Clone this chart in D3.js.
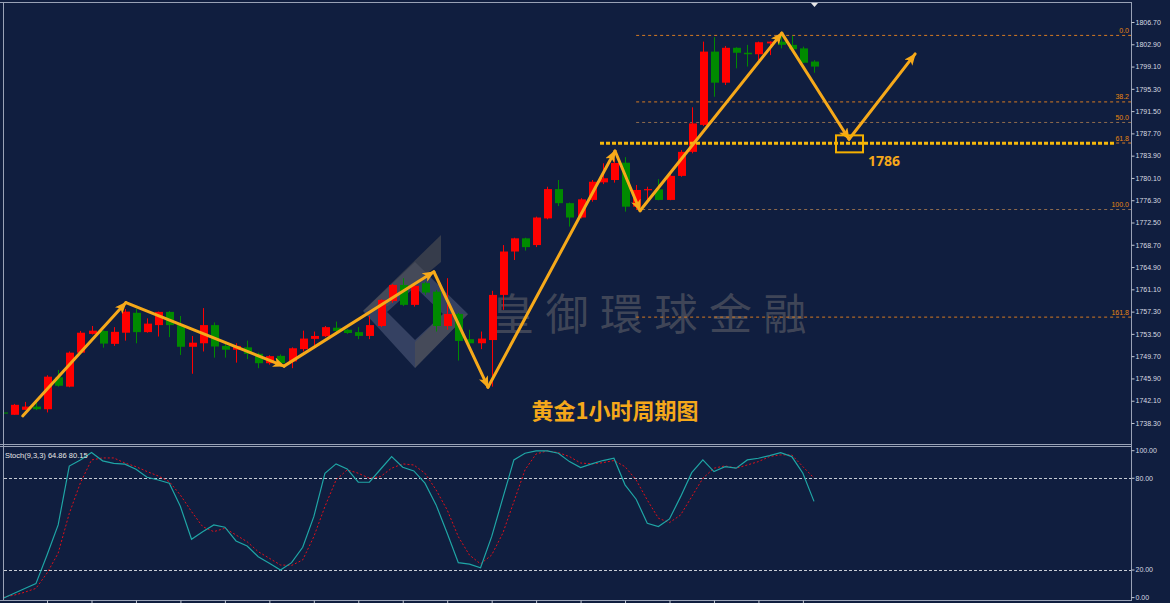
<!DOCTYPE html>
<html>
<head>
<meta charset="utf-8">
<script src="https://cdn.jsdelivr.net/npm/d3@7"></script>
<style>
    body { margin: 0; background: #101e3f; }
    svg { display: block; font-family: "Liberation Sans", Arial, sans-serif; }
</style>
</head>
<body>
<div id="chart"></div>
<script>
// candle index -1 .. 72 (first one is cut by the left border)
const candleIdx = d3.range(-1, 73)
const opens = [1740.1, 1739.7, 1740.55, 1741.1, 1740.65, 1746.1, 1744.5, 1750.3, 1753.5, 1754.0,
    1751.8, 1753.7, 1757.1, 1753.8, 1755.0, 1757.25, 1755.0, 1751.3, 1751.9, 1755.0,
    1751.45, 1750.8, 1751.2, 1750.1, 1748.5, 1749.75, 1748.8, 1750.9, 1752.65, 1753.1,
    1754.55, 1754.2, 1753.8, 1753.15, 1754.85, 1759.1, 1761.85, 1758.45, 1762.15, 1760.7,
    1754.85, 1756.9, 1752.6, 1751.9, 1752.45, 1760.15, 1767.55, 1769.8, 1768.65, 1773.2,
    1778.2, 1775.8, 1773.35, 1776.35, 1779.35, 1779.75, 1782.7, 1775.2, 1778.0, 1778.15,
    1776.35, 1780.45, 1784.55, 1789.15, 1801.65, 1796.35, 1802.3, 1801.45, 1801.2, 1803.05,
    1803.35, 1802.8, 1802.2, 1799.95]
const closes = [1739.95, 1741.4, 1741.1, 1740.65, 1746.2, 1744.65, 1750.3, 1753.7, 1754.05, 1751.85,
    1753.85, 1757.3, 1753.8, 1755.25, 1757.25, 1755.0, 1751.3, 1752.0, 1755.0, 1751.35,
    1750.8, 1751.45, 1750.1, 1748.5, 1749.7, 1748.5, 1751.05, 1752.7, 1753.15, 1754.65,
    1754.0, 1753.65, 1753.15, 1755.0, 1759.3, 1761.85, 1758.45, 1761.7, 1760.55, 1754.85,
    1756.9, 1752.3, 1751.9, 1752.7, 1760.15, 1767.55, 1769.8, 1768.3, 1773.35, 1778.2,
    1775.8, 1773.35, 1776.45, 1779.45, 1780.05, 1782.65, 1775.2, 1778.05, 1778.2, 1776.35,
    1780.45, 1784.55, 1789.4, 1801.65, 1796.35, 1802.3, 1801.45, 1801.2, 1803.25, 1803.35,
    1802.8, 1802.05, 1799.75, 1799.1]
const highs = [1740.2, 1741.55, 1741.9, 1742.4, 1746.45, 1747.35, 1750.5, 1754.0, 1754.85, 1754.1,
    1754.65, 1757.75, 1757.75, 1756.15, 1757.3, 1757.4, 1756.55, 1753.15, 1757.9, 1755.45,
    1751.9, 1751.9, 1752.35, 1750.3, 1749.85, 1750.0, 1751.2, 1754.05, 1753.9, 1754.85,
    1755.6, 1754.35, 1754.65, 1756.55, 1759.4, 1762.0, 1763.0, 1762.15, 1762.4, 1761.0,
    1763.0, 1757.1, 1754.2, 1753.9, 1760.85, 1768.65, 1769.9, 1769.9, 1773.5, 1778.6,
    1779.75, 1775.9, 1776.65, 1779.75, 1782.6, 1783.3, 1783.65, 1778.9, 1778.6, 1779.9,
    1781.15, 1784.85, 1792.15, 1803.35, 1804.1, 1802.6, 1802.4, 1802.8, 1803.35, 1803.4,
    1804.75, 1804.35, 1802.5, 1800.2]
const lows = [1739.9, 1739.7, 1740.55, 1740.5, 1740.1, 1744.5, 1744.4, 1750.2, 1753.4, 1751.15,
    1751.45, 1752.35, 1751.9, 1753.7, 1753.05, 1752.95, 1749.9, 1746.7, 1750.5, 1749.45,
    1749.45, 1748.6, 1749.2, 1747.65, 1748.25, 1748.3, 1747.65, 1750.5, 1751.6, 1752.95,
    1753.35, 1753.5, 1752.6, 1752.6, 1754.65, 1758.8, 1758.25, 1758.15, 1760.15, 1753.9,
    1754.2, 1748.95, 1751.45, 1750.9, 1744.5, 1757.6, 1766.1, 1767.7, 1768.3, 1773.05,
    1775.3, 1771.8, 1773.2, 1776.05, 1779.05, 1779.3, 1774.35, 1774.65, 1775.8, 1776.3,
    1776.3, 1780.3, 1784.3, 1788.95, 1793.95, 1795.95, 1798.8, 1799.1, 1800.2, 1801.05,
    1802.2, 1802.0, 1799.7, 1798.05]

const stochK = [1.4, 4.6, 7.9, 11.1, 29.8, 49.5, 88, 92, 96.8, 91.4,
    89.8, 89.2, 85.9, 80.7, 78.9, 76.8, 61.5, 40.1, 45.1, 49.5,
    48, 39, 35.7, 28.7, 24.4, 20, 24.8, 34.9, 54.9, 83.3,
    89.4, 86.1, 77.4, 77.4, 85.9, 94.2, 87.2, 84.8, 76.8, 62.6,
    44, 24.8, 23.8, 21.5, 41.8, 67, 92, 96.4, 97.9, 97.9,
    96.4, 90.9, 87, 89.4, 91.6, 93.1, 75.7, 66.3, 50.6, 48.4,
    53.4, 68, 83.7, 92, 84.4, 87.6, 86.6, 92, 93.1, 94.8,
    96.8, 94.2, 83.3, 64.9]
const stochD = [2.2, 3.5, 5.5, 8, 18, 31, 57, 77, 92, 93.3,
    93.3, 90, 87.6, 84.4, 81.5, 77.8, 69, 58.2, 48.4, 45.1,
    47.3, 42.9, 38.5, 32, 27.7, 23.3, 23, 26.6, 41.8, 61.5,
    78.9, 85.5, 83.3, 80, 81.1, 86.6, 89.4, 88.7, 83.3, 72.4,
    59.3, 41.8, 29.8, 24, 29.8, 44, 64.7, 85.5, 95.9, 97.9,
    96.8, 94.2, 90, 89.4, 90.2, 91.6, 87.6, 78.9, 65.8, 53.9,
    51, 56, 68, 80, 86.6, 88.1, 86.6, 88.7, 90.9, 94.2,
    95.3, 95.3, 87.6, 80.2]

const priceTicks = [1806.7, 1802.9, 1799.1, 1795.3, 1791.5, 1787.7, 1783.9, 1780.1, 1776.3, 1772.5,
    1768.7, 1764.9, 1761.1, 1757.3, 1753.5, 1749.7, 1745.9, 1742.1, 1738.3]
const stochTicks = [100, 80, 20, 0]
const stochLevels = [80, 20]
const stochLabel = "Stoch(9,3,3) 64.86 80.15"

const fibHigh = 1804.5
const fibLow = 1774.8
const fibStartIdx = 56
const fibLevels = ["0.0", "38.2", "50.0", "61.8", "100.0", "161.8"]

// zigzag drawn on the chart (candle index, price)
const zigIdx = [0.81, 10.1, 24.32, 37.8, 42.67, 54.1, 56.35, 69.1, 75.15, 81.1]
const zigPrice = [1739.5, 1758.85, 1748.0, 1764.1, 1744.4, 1784.7, 1774.5, 1804.8, 1786.7, 1801.25]

const supportPrice = 1786
const supportStartIdx = 52.75
const targetIdx = 75.15
const targetLabel = "1786"
const title = "黄金1小时周期图"
const watermark = "皇御環球金融"

const W = 1170, H = 603
const plotLeft = 4, plotRight = 1132
const mainTop = 3, mainBottom = 444.5
const stochTop = 447.5, stochBottom = 600.5

const svg = d3.select("#chart").append("svg")
    .attr("width", W).attr("height", H)

svg.append("rect").attr("width", W).attr("height", H).attr("fill", "#101e3f")

const x = d3.scaleLinear().domain([0, 72]).range([13.7, 814])
const y = d3.scaleLinear().domain([1738.3, 1806.7]).range([423, 22])
const ys = d3.scaleLinear().domain([0, 100]).range([600.6, 447.7])

const defs = svg.append("defs")
defs.append("clipPath").attr("id", "clipMain").append("rect")
    .attr("x", plotLeft).attr("y", mainTop).attr("width", plotRight - plotLeft).attr("height", mainBottom - mainTop)
defs.append("clipPath").attr("id", "clipStoch").append("rect")
    .attr("x", plotLeft).attr("y", stochTop).attr("width", plotRight - plotLeft).attr("height", stochBottom - stochTop)
defs.append("marker")
    .attr("id", "arrow").attr("markerUnits", "userSpaceOnUse")
    .attr("viewBox", "0 0 12 10").attr("refX", 11).attr("refY", 5)
    .attr("markerWidth", 12).attr("markerHeight", 10).attr("orient", "auto")
    .append("path").attr("d", "M0,0 L12,5 L0,10 L3,5 z").attr("fill", "#f6a91a")

const main = svg.append("g").attr("clip-path", "url(#clipMain)")

// watermark logo + text
const logo = main.append("g")
logo.append("path")
    .attr("d", "M363,311 L415,262 L468,314 L415,368 Z M387,312 L415,287 L443,314 L415,340 Z")
    .attr("fill-rule", "evenodd").attr("fill", "rgba(140,150,178,0.30)")
logo.append("path").attr("d", "M441,235 L441,262 L388,306 L363,311 Z")
    .attr("fill", "rgba(80,80,84,0.6)")
logo.append("path").attr("d", "M415,342 L415,368 L468,314 L443,314 Z")
    .attr("fill", "rgba(80,80,84,0.6)")
main.append("text")
    .attr("x", 491).attr("y", 330)
    .attr("font-family", "'Noto Sans CJK TC', 'Noto Sans CJK SC', sans-serif")
    .attr("font-size", 43).attr("letter-spacing", 11.5)
    .attr("fill", "rgba(105,105,110,0.55)")
    .text(watermark)

// fib levels
const fibY = lv => y(fibHigh - (fibHigh - fibLow) * (+lv) / 100)
const fibG = main.append("g")
fibG.selectAll("line").data(fibLevels).join("line")
    .attr("x1", x(fibStartIdx)).attr("x2", plotRight)
    .attr("y1", d => fibY(d) + 0.5).attr("y2", d => fibY(d) + 0.5)
    .attr("stroke", d => (d === "50.0" || d === "100.0") ? "#8f6b4e" : "#d67a22")
    .attr("stroke-dasharray", "3,3")
fibG.selectAll("text").data(fibLevels).join("text")
    .attr("x", 1129).attr("y", d => fibY(d) - 2)
    .attr("text-anchor", "end").attr("font-size", 7).attr("fill", "#e8860f")
    .text(d => d)

// candles
const candles = candleIdx.map((i, k) => ({i, o: opens[k], h: highs[k], l: lows[k], c: closes[k]}))
const up = "#ff0000", down = "#008a00"
const cg = main.append("g")
cg.selectAll("line").data(candles).join("line")
    .attr("x1", d => Math.round(x(d.i)) + 0.5).attr("x2", d => Math.round(x(d.i)) + 0.5)
    .attr("y1", d => y(d.h)).attr("y2", d => y(d.l))
    .attr("stroke", d => d.c >= d.o ? up : down)
cg.selectAll("rect").data(candles).join("rect")
    .attr("x", d => Math.round(x(d.i)) - 3)
    .attr("width", 8)
    .attr("y", d => y(Math.max(d.o, d.c)))
    .attr("height", d => Math.max(1.2, y(Math.min(d.o, d.c)) - y(Math.max(d.o, d.c))))
    .attr("fill", d => d.c >= d.o ? up : down)

// support line at 1786
main.append("line")
    .attr("x1", x(supportStartIdx)).attr("x2", 1114)
    .attr("y1", y(supportPrice)).attr("y2", y(supportPrice))
    .attr("stroke", "#f5b80c").attr("stroke-width", 3).attr("stroke-dasharray", "4,2")

// zigzag arrows
const zig = zigIdx.map((i, k) => [x(i), y(zigPrice[k])])
main.append("g").selectAll("line").data(d3.pairs(zig)).join("line")
    .attr("x1", d => d[0][0]).attr("y1", d => d[0][1])
    .attr("x2", d => d[1][0]).attr("y2", d => d[1][1])
    .attr("stroke", "#f6a91a").attr("stroke-width", 3)
    .attr("stroke-linecap", "round")
    .attr("marker-end", "url(#arrow)")

// target box + label
main.append("rect")
    .attr("x", x(targetIdx) - 13).attr("y", y(supportPrice) - 8)
    .attr("width", 27).attr("height", 17)
    .attr("fill", "none").attr("stroke", "#f5b000").attr("stroke-width", 2)
main.append("text")
    .attr("x", x(targetIdx) + 19).attr("y", y(supportPrice) + 23)
    .attr("font-family", "'Noto Sans', sans-serif").attr("font-weight", "bold")
    .attr("font-size", 14).attr("fill", "#f5a81a")
    .text(targetLabel)

main.append("text")
    .attr("x", 615).attr("y", 419)
    .attr("text-anchor", "middle")
    .attr("font-family", "'Noto Sans CJK SC', sans-serif").attr("font-weight", "bold")
    .attr("font-size", 22).attr("fill", "#f5a81a")
    .text(title)

// stochastic panel
const st = svg.append("g").attr("clip-path", "url(#clipStoch)")
st.selectAll("line.lvl").data(stochLevels).join("line").attr("class", "lvl")
    .attr("x1", plotLeft).attr("x2", plotRight)
    .attr("y1", d => Math.round(ys(d)) + 0.5).attr("y2", d => Math.round(ys(d)) + 0.5)
    .attr("stroke", "#c8ccd4").attr("stroke-dasharray", "3,2")
const kLine = d3.line().x((d, k) => x(candleIdx[k])).y(d => ys(d))
st.append("path").datum(stochD).attr("d", kLine)
    .attr("fill", "none").attr("stroke", "#e0101a").attr("stroke-dasharray", "2,2")
st.append("path").datum(stochK).attr("d", kLine)
    .attr("fill", "none").attr("stroke", "#1fa5a5").attr("stroke-width", 1.2)
svg.append("text").attr("x", 5).attr("y", 458)
    .attr("font-size", 7.5).attr("fill", "#e6e6e6").text(stochLabel)

// frames
const frame = svg.append("g").attr("stroke", "#99a2b6").attr("fill", "none")
frame.append("line").attr("x1", 0).attr("x2", plotRight).attr("y1", 2.5).attr("y2", 2.5)
frame.append("line").attr("x1", 3.5).attr("x2", 3.5).attr("y1", 2).attr("y2", stochBottom)
frame.append("line").attr("x1", 0).attr("x2", plotRight).attr("y1", mainBottom).attr("y2", mainBottom)
frame.append("line").attr("x1", 0).attr("x2", plotRight).attr("y1", stochTop - 1).attr("y2", stochTop - 1)
frame.append("line").attr("x1", 0).attr("x2", plotRight).attr("y1", stochBottom).attr("y2", stochBottom)

// shift marker
svg.append("path").attr("d", "M811,3 L818,3 L814.5,7 Z").attr("fill", "#e8e8e8")

// price axis
const styleAxis = g => {
    g.select(".domain").attr("stroke", "#99a2b6")
    g.selectAll(".tick line").attr("stroke", "#c0c6d2")
    g.selectAll(".tick text").attr("fill", "#d8dbe2").attr("font-size", 7)
        .attr("font-family", "'Liberation Sans', Arial, sans-serif")
}
svg.append("g").attr("transform", `translate(${plotRight - 0.5},0)`)
    .call(d3.axisRight(y).tickValues(priceTicks).tickSize(3).tickPadding(1).tickFormat(d3.format(".2f")))
    .call(g => g.select(".domain").attr("d", `M0,2V${stochBottom}`))
    .call(styleAxis)

const sAxis = svg.append("g").attr("transform", `translate(${plotRight - 0.5},0)`)
    .call(d3.axisRight(ys).tickValues(stochTicks).tickSize(3).tickPadding(1).tickFormat(d3.format(".2f")))
    .call(styleAxis)
sAxis.select(".domain").remove()
sAxis.selectAll(".tick").attr("transform", d => {
    const off = d === 100 ? 3 : d === 0 ? -3 : 0
    return `translate(0,${ys(d) + off})`
})

// time ticks at the bottom
svg.append("g").attr("transform", `translate(0,${stochBottom})`)
    .call(d3.axisBottom(x).tickValues(d3.range(3, 72, 4)).tickSize(3).tickFormat(""))
    .call(g => g.select(".domain").remove())
    .call(g => g.selectAll(".tick line").attr("stroke", "#c0c6d2"))
</script>
</body>
</html>
